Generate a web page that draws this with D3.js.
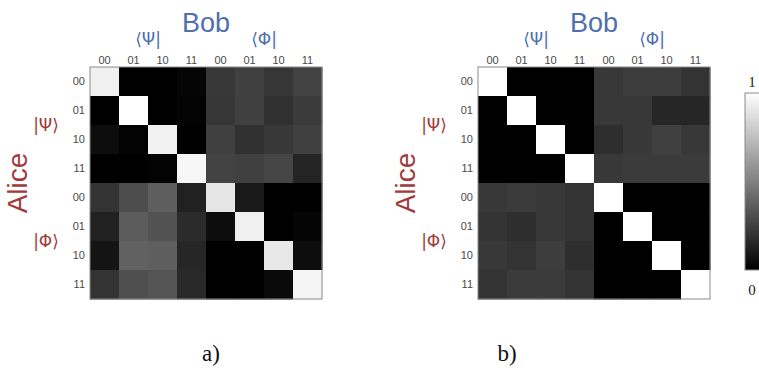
<!DOCTYPE html>
<html>
<head>
<meta charset="utf-8">
<script src="https://cdn.jsdelivr.net/npm/d3@7"></script>
<style>
  html, body { margin: 0; padding: 0; background: #fff; }
  svg { display: block; }
</style>
</head>
<body>
<svg id="chart" width="759" height="383"></svg>
<script>
// ---- Data ----
const bitLabels = ["00", "01", "10", "11", "00", "01", "10", "11"];
const bobGroups = ["⟨Ψ|", "⟨Φ|"];
const aliceGroups = ["|Ψ⟩", "|Φ⟩"];
const panelLabels = ["a)", "b)"];
const colorbarTicks = ["0", "1"];

// panel a) measured fidelity matrix (rows: Alice, cols: Bob)
const matrixA = [
  [0.94, 0.00, 0.00, 0.02, 0.22, 0.25, 0.21, 0.26],
  [0.00, 1.00, 0.00, 0.01, 0.21, 0.25, 0.19, 0.23],
  [0.05, 0.01, 0.95, 0.00, 0.25, 0.19, 0.22, 0.25],
  [0.00, 0.00, 0.01, 0.97, 0.26, 0.25, 0.27, 0.14],
  [0.20, 0.30, 0.37, 0.13, 0.90, 0.10, 0.00, 0.00],
  [0.13, 0.36, 0.32, 0.17, 0.05, 0.94, 0.00, 0.02],
  [0.08, 0.38, 0.37, 0.15, 0.00, 0.00, 0.91, 0.05],
  [0.20, 0.31, 0.33, 0.16, 0.00, 0.00, 0.04, 0.96]
];
// panel b) ideal / simulated matrix
const matrixB = [
  [1.00, 0.00, 0.00, 0.00, 0.22, 0.24, 0.24, 0.20],
  [0.00, 1.00, 0.00, 0.00, 0.22, 0.22, 0.15, 0.15],
  [0.00, 0.00, 1.00, 0.00, 0.18, 0.22, 0.25, 0.22],
  [0.00, 0.00, 0.00, 1.00, 0.22, 0.23, 0.23, 0.23],
  [0.22, 0.23, 0.22, 0.20, 1.00, 0.00, 0.00, 0.00],
  [0.20, 0.18, 0.22, 0.20, 0.00, 1.00, 0.00, 0.00],
  [0.22, 0.20, 0.24, 0.18, 0.00, 0.00, 1.00, 0.00],
  [0.20, 0.23, 0.23, 0.20, 0.00, 0.00, 0.00, 1.00]
];

// ---- Drawing ----
const svg = d3.select("#chart");
const color = d3.scaleLinear().domain([0, 1]).range(["#000000", "#ffffff"]);
const blue = "#4f6fae";
const red = "#a13a3a";
const labelGray = "#4a4a4a";
const idx = d3.range(8);

const y = d3.scaleBand().domain(idx).range([67, 299]).padding(0);

function panel(matrix, x0, label, labelX) {
  const x = d3.scaleBand().domain(idx).range([x0, x0 + 232]).padding(0);
  const g = svg.append("g");
  const cells = [];
  matrix.forEach((row, i) => row.forEach((v, j) => cells.push({ i, j, v })));
  g.selectAll("rect.cell").data(cells).join("rect")
    .attr("class", "cell")
    .attr("x", d => x(d.j)).attr("y", d => y(d.i))
    .attr("width", x.bandwidth() + 0.5).attr("height", y.bandwidth() + 0.5)
    .attr("fill", d => color(d.v));
  g.append("rect")
    .attr("x", x0).attr("y", 67).attr("width", 232).attr("height", 232)
    .attr("fill", "none").attr("stroke", "#8a8a8a").attr("stroke-width", 1);

  // column labels
  const ax = g.append("g").attr("transform", "translate(0,67)")
    .call(d3.axisTop(x).tickSize(0).tickPadding(3).tickFormat(i => bitLabels[i]));
  ax.select(".domain").remove();
  ax.selectAll("text").attr("font-family", "Liberation Sans, Arial, sans-serif")
    .attr("font-size", 11).style("fill", labelGray);

  // row labels
  const ay = g.append("g").attr("transform", `translate(${x0},0)`)
    .call(d3.axisLeft(y).tickSize(0).tickPadding(5).tickFormat(i => bitLabels[i]));
  ay.select(".domain").remove();
  ay.selectAll("text").attr("font-family", "Liberation Sans, Arial, sans-serif")
    .attr("font-size", 11).style("fill", labelGray);

  // Bob header
  g.append("text").attr("x", x0 + 116).attr("y", 32)
    .attr("text-anchor", "middle").attr("font-family", "Liberation Sans, Arial, sans-serif")
    .attr("font-size", 27).attr("fill", blue).text("Bob");
  bobGroups.forEach((t, k) => {
    g.append("text").attr("x", (x(k * 4) + x(k * 4 + 3) + x.bandwidth()) / 2).attr("y", 45)
      .attr("text-anchor", "middle").attr("font-family", "DejaVu Sans, sans-serif")
      .attr("font-size", 17).attr("fill", blue).text(t);
  });

  // Alice side
  g.append("text")
    .attr("transform", `translate(${x0 - 63},${183}) rotate(-90)`)
    .attr("text-anchor", "middle").attr("font-family", "Liberation Sans, Arial, sans-serif")
    .attr("font-size", 28).attr("fill", red).text("Alice");
  aliceGroups.forEach((t, k) => {
    g.append("text").attr("x", x0 - 44).attr("y", (y(k * 4) + y(k * 4 + 3) + y.bandwidth()) / 2 + 6)
      .attr("text-anchor", "middle").attr("font-family", "DejaVu Sans, sans-serif")
      .attr("font-size", 17).attr("fill", red).text(t);
  });

  // panel label
  svg.append("text").attr("x", labelX).attr("y", 361)
    .attr("text-anchor", "middle").attr("font-family", "Liberation Serif, Times New Roman, serif")
    .attr("font-size", 23).attr("fill", "#111").text(label);
}

panel(matrixA, 90, panelLabels[0], 211);
panel(matrixB, 478, panelLabels[1], 507);

// colorbar
const defs = svg.append("defs");
const grad = defs.append("linearGradient").attr("id", "cbar")
  .attr("x1", 0).attr("y1", 1).attr("x2", 0).attr("y2", 0);
d3.range(0, 1.01, 0.1).forEach(t => grad.append("stop")
  .attr("offset", t).attr("stop-color", color(t)));
const cbScale = d3.scaleLinear().domain([0, 1]).range([270, 93]);
svg.append("rect").attr("x", 745).attr("y", cbScale(1))
  .attr("width", 22).attr("height", cbScale(0) - cbScale(1))
  .attr("fill", "url(#cbar)").attr("stroke", "#8a8a8a").attr("stroke-width", 1);
colorbarTicks.forEach(t => {
  const v = +t;
  svg.append("text").attr("x", 752)
    .attr("y", v === 1 ? cbScale(1) - 6 : cbScale(0) + 25)
    .attr("text-anchor", "middle").attr("font-family", "Liberation Serif, Times New Roman, serif")
    .attr("font-size", 15).attr("fill", "#222").text(t);
});
</script>
</body>
</html>
